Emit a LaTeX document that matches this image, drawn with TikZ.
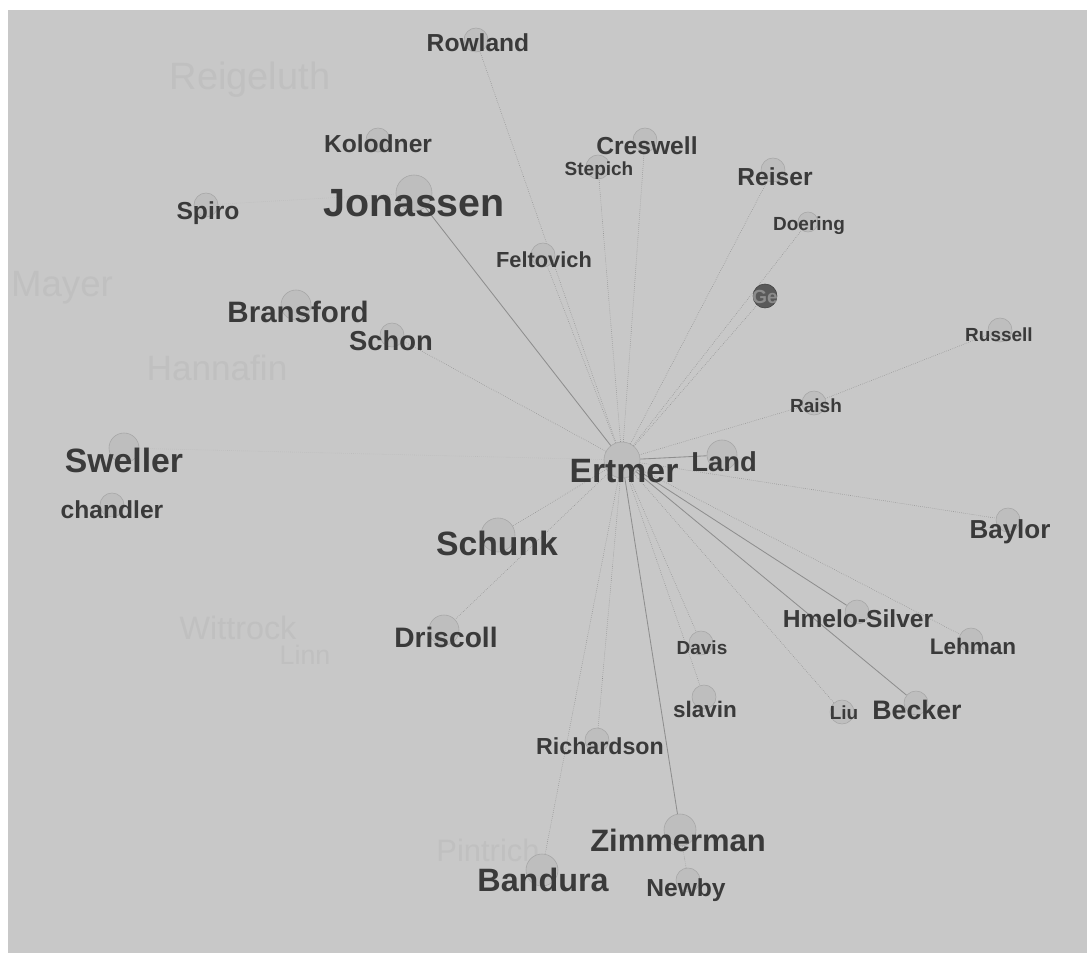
\documentclass[tikz,border=0pt]{standalone}
\usepackage{fontspec}
\setmainfont{Liberation Sans}
\usetikzlibrary{positioning}
\definecolor{fondo}{HTML}{C8C8C8}
\definecolor{testo}{HTML}{3A3A3A}
\definecolor{sbiadito}{HTML}{C0C0C0}
\definecolor{cerchio}{HTML}{BEBEBE}
\definecolor{bordo}{HTML}{A6A6A6}
\definecolor{arco}{HTML}{8E8E8E}
\pgfdeclarelayer{sfondo}
\pgfdeclarelayer{archi}
\pgfsetlayers{sfondo,archi,main}

\begin{document}
\begin{tikzpicture}[x=0.025cm, y=-0.025cm, line width=0.5pt,
  punto/.style={circle, draw=bordo, fill=cerchio, inner sep=0pt, minimum size=0.6cm},
  hub/.style={punto, minimum size=0.9cm},
  scuro/.style={punto, fill=black!65, draw=black!75},
  lblhuge/.style={text=testo, font=\bfseries\fontsize{28}{28}\selectfont},
  lblbig/.style={text=testo, font=\bfseries\fontsize{24}{24}\selectfont},
  lblmid/.style={text=testo, font=\bfseries\fontsize{17.5}{17.5}\selectfont},
  lblsmall/.style={text=testo, font=\bfseries\fontsize{13.5}{13.5}\selectfont},
  fantasma/.style={text=sbiadito, font=\fontsize{24}{24}\selectfont},
  legame/.style={draw=arco, densely dotted},
  pieno/.style={draw=arco, line width=0.6pt}]
\useasboundingbox (0,0) rectangle (1087,953);
\begin{pgfonlayer}{sfondo}
  \fill[white] (0,0) rectangle (1087,953);
  \fill[fondo] (8,10) rectangle (1087,953);
\end{pgfonlayer}

% nomi sullo sfondo, quasi invisibili
\node[fantasma, font=\fontsize{27}{27}\selectfont] (reigeluth) at (250,80) {Reigeluth};
\node[fantasma, font=\fontsize{26}{26}\selectfont] (mayer) at (62,288) {Mayer};
\node[fantasma, font=\fontsize{25}{25}\selectfont] (hannafin) at (217,368) {Hannafin};
\node[fantasma, font=\fontsize{23}{23}\selectfont] (wittrock) at (238,628) {Wittrock};
\node[fantasma, font=\fontsize{19}{19}\selectfont] (linn) at (305,655) {Linn};
\node[fantasma, font=\fontsize{22}{22}\selectfont] (pintrich) at (488,850) {Pintrich};

% autori: cerchi
\node[hub]   (ertmer)     at (622,460) {};
\node[punto] (rowland)    at (476,40)  {};
\node[punto] (kolodner)   at (378,140) {};
\node[hub]   (jonassen)   at (414,193) {};
\node[punto] (spiro)      at (206,205) {};
\node[punto] (creswell)   at (645,140) {};
\node[punto] (stepich)    at (598,167) {};
\node[punto] (reiser)     at (773,170) {};
\node[punto, minimum size=0.5cm] (doering) at (808,222) {};
\node[punto] (feltovich)  at (543,255) {};
\node[scuro] (ge)         at (765,296) {};
\node[punto, minimum size=0.75cm] (bransford) at (296,305) {};
\node[punto] (schon)      at (392,335) {};
\node[punto] (russell)    at (1000,330) {};
\node[punto] (raish)      at (814,403) {};
\node[punto, minimum size=0.75cm] (sweller) at (124,448) {};
\node[punto] (chandler)   at (112,505) {};
\node[punto, minimum size=0.75cm] (land) at (722,455) {};
\node[punto, minimum size=0.85cm] (schunk) at (498,535) {};
\node[punto] (baylor)     at (1008,520) {};
\node[punto] (hmelo)      at (857,612) {};
\node[punto] (lehman)     at (971,640) {};
\node[punto, minimum size=0.75cm] (driscoll) at (444,630) {};
\node[punto] (davis)      at (701,643) {};
\node[punto] (slavin)     at (704,697) {};
\node[punto] (liu)        at (842,712) {};
\node[punto] (becker)     at (916,703) {};
\node[punto] (richardson) at (597,740) {};
\node[punto, minimum size=0.8cm] (zimmerman) at (680,830) {};
\node[punto, minimum size=0.8cm] (bandura)   at (542,870) {};
\node[punto] (newby)      at (688,880) {};

% autori: nomi
\node[lblbig]   (ertmer-t)     at (624,471) {Ertmer};
\node[lblmid]   (rowland-t)    at (478,43)  {Rowland};
\node[lblmid]   (kolodner-t)   at (378,144) {Kolodner};
\node[lblhuge]  (jonassen-t)   at (414,203) {Jonassen};
\node[lblmid]   (spiro-t)      at (208,213) {Spiro};
\node[lblmid]   (creswell-t)   at (647,146) {Creswell};
\node[lblsmall] (stepich-t)    at (599,171) {Stepich};
\node[lblmid]   (reiser-t)     at (775,177) {Reiser};
\node[lblsmall] (doering-t)    at (809,226) {Doering};
\node[lblmid, font=\bfseries\fontsize{15.5}{15.5}\selectfont] (feltovich-t) at (544,260) {Feltovich};
\node[lblsmall, text=black!45] (ge-t) at (765,297) {Ge};
\node[lblmid, font=\bfseries\fontsize{21}{21}\selectfont] (bransford-t) at (298,312) {Bransford};
\node[lblmid, font=\bfseries\fontsize{19.5}{19.5}\selectfont] (schon-t) at (391,341) {Schon};
\node[lblsmall] (russell-t)    at (999,335) {Russell};
\node[lblsmall] (raish-t)      at (816,406) {Raish};
\node[lblbig]   (sweller-t)    at (124,460) {Sweller};
\node[lblmid]   (chandler-t)   at (112,510) {chandler};
\node[lblmid, font=\bfseries\fontsize{19.5}{19.5}\selectfont] (land-t) at (724,462) {Land};
\node[lblbig]   (schunk-t)     at (497,543) {Schunk};
\node[lblmid, font=\bfseries\fontsize{18.5}{18.5}\selectfont] (baylor-t) at (1010,532) {Baylor};
\node[lblmid]   (hmelo-t)      at (858,619) {Hmelo-Silver};
\node[lblmid, font=\bfseries\fontsize{16}{16}\selectfont] (lehman-t) at (973,646) {Lehman};
\node[lblmid, font=\bfseries\fontsize{20}{20}\selectfont] (driscoll-t) at (446,637) {Driscoll};
\node[lblsmall] (davis-t)      at (702,648) {Davis};
\node[lblmid, font=\bfseries\fontsize{16}{16}\selectfont] (slavin-t) at (705,709) {slavin};
\node[lblsmall] (liu-t)        at (844,713) {Liu};
\node[lblmid, font=\bfseries\fontsize{19}{19}\selectfont] (becker-t) at (917,710) {Becker};
\node[lblmid, font=\bfseries\fontsize{16.5}{16.5}\selectfont] (richardson-t) at (600,746) {Richardson};
\node[lblbig, font=\bfseries\fontsize{22}{22}\selectfont] (zimmerman-t) at (678,840) {Zimmerman};
\node[lblbig, font=\bfseries\fontsize{23}{23}\selectfont] (bandura-t) at (543,880) {Bandura};
\node[lblmid]   (newby-t)      at (686,890) {Newby};

% legami di co-citazione
\begin{pgfonlayer}{archi}
\draw[pieno]  (ertmer) -- (jonassen);
\draw[legame] (ertmer) -- (rowland);
\draw[legame] (ertmer) -- (feltovich);
\draw[legame] (ertmer) -- (stepich);
\draw[legame] (ertmer) -- (creswell);
\draw[legame] (ertmer) -- (reiser);
\draw[legame] (ertmer) -- (doering);
\draw[legame] (ertmer) -- (ge);
\draw[legame] (ertmer) -- (schon);
\draw[legame] (ertmer) -- (raish);
\draw[legame] (raish) -- (russell);
\draw[pieno]  (ertmer) -- (land);
\draw[legame] (ertmer) -- (baylor);
\draw[pieno]  (ertmer) -- (hmelo);
\draw[legame] (ertmer) -- (lehman);
\draw[pieno]  (ertmer) -- (becker);
\draw[legame] (ertmer) -- (liu);
\draw[legame] (ertmer) -- (davis);
\draw[legame] (ertmer) -- (slavin);
\draw[pieno]  (ertmer) -- (zimmerman);
\draw[legame] (zimmerman) -- (newby);
\draw[legame] (ertmer) -- (richardson);
\draw[legame] (ertmer) -- (bandura);
\draw[legame] (ertmer) -- (schunk);
\draw[legame] (ertmer) -- (driscoll);
\draw[legame, draw=arco!60] (ertmer) -- (sweller);
\draw[legame, draw=arco!60] (spiro) -- (jonassen);
\end{pgfonlayer}
\end{tikzpicture}
\end{document}
